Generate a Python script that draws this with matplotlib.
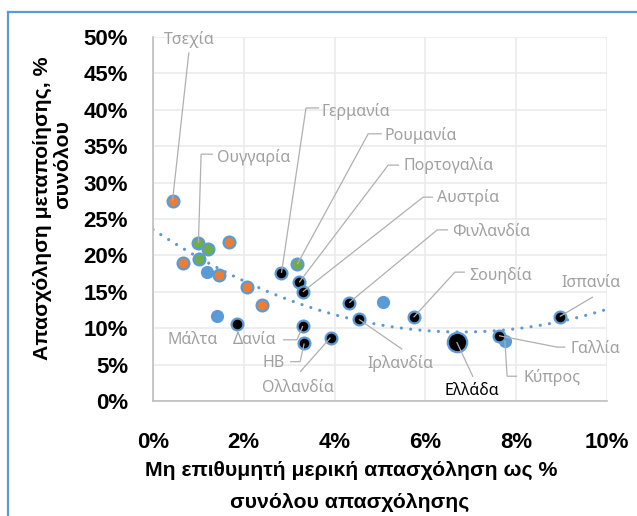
import numpy as np
import matplotlib
matplotlib.use("Agg")
import matplotlib.pyplot as plt
from matplotlib.lines import Line2D

# ---------------- data ----------------
blue_x = [1.20, 1.42, 5.07, 7.75]
blue_y = [17.7, 11.7, 13.6, 8.3]

orange_x = [0.43, 1.67, 0.65, 1.45, 2.06, 2.40]
orange_y = [27.5, 21.8, 19.0, 17.3, 15.6, 13.2]

green_x = [1.00, 1.22, 1.01, 3.18]
green_y = [21.7, 20.9, 19.5, 18.8]

black_x = [2.83, 3.22, 3.30, 1.84, 3.30, 3.33, 3.91, 4.32, 4.54, 5.74, 7.62, 8.96]
black_y = [17.6, 16.3, 15.0, 10.6, 10.3, 7.9, 8.7, 13.5, 11.2, 11.5, 8.97, 11.6]

greece_x = [6.69]
greece_y = [8.1]

x_ticks = [0, 2, 4, 6, 8, 10]
y_ticks = [0, 5, 10, 15, 20, 25, 30, 35, 40, 45, 50]

# labels: name, point (x, y)
label_names = ["Τσεχία", "Γερμανία", "Ρουμανία", "Ουγγαρία", "Πορτογαλία", "Αυστρία",
               "Φινλανδία", "Σουηδία", "Ισπανία", "Γαλλία", "Κύπρος", "Ελλάδα",
               "Ιρλανδία", "Μάλτα", "Δανία", "HB", "Ολλανδία"]
label_points = [(0.43, 27.5), (2.83, 17.6), (3.18, 18.8), (1.00, 21.7), (3.22, 16.3),
                (3.30, 15.0), (4.32, 13.5), (5.74, 11.5), (8.96, 11.6), (7.62, 8.97),
                (7.75, 8.3), (6.69, 8.1), (4.54, 11.2), None, (3.30, 10.3),
                (3.33, 7.9), (3.91, 8.7)]

# ---------------- layout of labels (text pos, ha, leader path) ----------------
label_layout = [
    (0.79, 49.6, "center", [(0.79, 47.9)]),
    (3.72, 39.8, "left", [(3.37, 40.25), (3.66, 40.25)]),
    (5.11, 36.5, "left", [(4.74, 36.7), (5.04, 36.7)]),
    (1.41, 33.5, "left", [(1.06, 33.9), (1.32, 33.9)]),
    (5.51, 32.4, "left", [(5.18, 32.4), (5.42, 32.4)]),
    (6.26, 28.0, "left", [(5.95, 28.0), (6.17, 28.0)]),
    (6.59, 23.2, "left", [(6.26, 23.5), (6.50, 23.5)]),
    (6.96, 17.3, "left", [(6.65, 17.7), (6.87, 17.7)]),
    (9.65, 16.2, "center", [(9.69, 14.3)]),
    (9.19, 7.1, "left", [(8.90, 7.4), (9.08, 7.4)]),
    (8.15, 3.2, "left", [(7.80, 3.4), (8.02, 3.4)]),
    (7.03, 1.4, "center", [(7.05, 3.3)]),
    (5.44, 5.1, "center", [(5.49, 7.1)]),
    (0.88, 8.4, "center", []),
    (2.73, 8.4, "right", [(3.17, 8.4), (2.86, 8.4)]),
    (2.91, 5.2, "right", [(3.24, 5.4), (3.02, 5.4)]),
    (3.19, 1.8, "center", [(3.24, 4.0)]),
]

BLUE = "#5B9BD5"
ORANGE = "#ED7D31"
GREEN = "#70AD47"
LABEL_GRAY = "#A0A0A0"

narrow = ["Liberation Sans Narrow", "Liberation Sans", "DejaVu Sans"]
label_font = ["Noto Sans", "DejaVu Sans"]

fig = plt.figure(figsize=(6.37, 5.16), dpi=100)
ax = fig.add_axes([0.2402, 0.2229, 0.7127, 0.7054])

ax.set_xlim(0, 10)
ax.set_ylim(0, 50)
ax.set_xticks(x_ticks)
ax.set_yticks(y_ticks)
ax.set_xticklabels([f"{t}%" for t in x_ticks], fontfamily=narrow, fontweight="bold", fontsize=16)
ax.set_yticklabels([f"{t}%" for t in y_ticks], fontfamily=narrow, fontweight="bold", fontsize=16)
ax.tick_params(axis="x", length=0, pad=22)
ax.tick_params(axis="y", length=0, pad=18)
ax.grid(True, color="#EBEBEB", linewidth=1.2)
ax.set_axisbelow(True)
for s in ["top", "right"]:
    ax.spines[s].set_visible(False)
for s in ["left", "bottom"]:
    ax.spines[s].set_color("#BFBFBF")
    ax.spines[s].set_linewidth(1.2)

# trendline (2nd order polynomial fit of all points)
all_x = np.array(blue_x + orange_x + green_x + black_x + greece_x)
all_y = np.array(blue_y + orange_y + green_y + black_y + greece_y)
coef = np.polyfit(all_x, all_y, 2)
xx = np.linspace(0, 10, 200)
ax.plot(xx, np.polyval(coef, xx), color=BLUE, linewidth=2.3,
        linestyle=(0, (0.01, 2.9)), dash_capstyle="round", zorder=2)

ms = 8.5
ax.plot(blue_x, blue_y, "o", color=BLUE, markersize=ms + 1, markeredgewidth=0, zorder=3)
ax.plot(orange_x, orange_y, "o", markerfacecolor=ORANGE, markeredgecolor=BLUE,
        markersize=ms, markeredgewidth=1.6, zorder=3)
ax.plot(green_x, green_y, "o", markerfacecolor=GREEN, markeredgecolor=BLUE,
        markersize=ms, markeredgewidth=1.6, zorder=3)
ax.plot(black_x, black_y, "o", markerfacecolor="black", markeredgecolor=BLUE,
        markersize=ms, markeredgewidth=1.6, zorder=3)
ax.plot(greece_x, greece_y, "o", markerfacecolor="black", markeredgecolor=BLUE,
        markersize=14, markeredgewidth=1.6, zorder=3)

for name, pt, (tx, ty, ha, path) in zip(label_names, label_points, label_layout):
    color = "black" if name == "Ελλάδα" else LABEL_GRAY
    ax.text(tx, ty, name, ha=ha, va="center", fontsize=11.5, color=color,
            fontfamily=label_font, zorder=5)
    if pt is not None and path:
        xs = [pt[0]] + [p[0] for p in path]
        ys = [pt[1]] + [p[1] for p in path]
        ax.plot(xs, ys, color="#B0B0B0", linewidth=0.9, zorder=4,
                solid_capstyle="butt", clip_on=False)

# axis titles
fig.text(42 / 637, 1 - 208 / 516, "Απασχόληση μεταποίησης, %", rotation=90,
         ha="center", va="center", fontsize=15.3, fontweight="bold", fontfamily=narrow)
fig.text(63 / 637, 1 - 165 / 516, "συνόλου", rotation=90,
         ha="center", va="center", fontsize=15.3, fontweight="bold", fontfamily=narrow)
fig.text(351 / 637, 1 - 470 / 516, "Μη επιθυμητή μερική απασχόληση ως %",
         ha="center", va="center", fontsize=15.3, fontweight="bold", fontfamily=narrow)
fig.text(350 / 637, 1 - 502 / 516, "συνόλου απασχόλησης",
         ha="center", va="center", fontsize=15.3, fontweight="bold", fontfamily=narrow)

# chart border (blue frame, top and left visible)
fig.add_artist(Line2D([8 / 637, 1.0], [1 - 12 / 516, 1 - 12 / 516], color=BLUE,
                      linewidth=1.6, transform=fig.transFigure))
fig.add_artist(Line2D([8 / 637, 8 / 637], [0, 1 - 12 / 516], color=BLUE,
                      linewidth=1.6, transform=fig.transFigure))

fig.savefig("out.png", dpi=100)
